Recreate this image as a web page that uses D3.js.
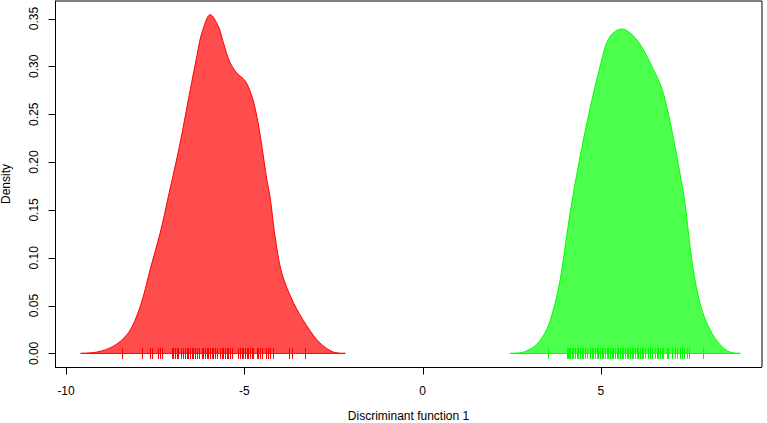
<!DOCTYPE html>
<head>
  <meta charset="utf-8">
  <title>Discriminant function density</title>
</head>
<style>
  body {
    margin: 0;
    background: #fff;
  }
  svg text {
    font-family: "Liberation Sans", Arial, Helvetica, sans-serif;
    font-size: 12px;
    fill: #000;
  }
</style>
<body>
  <svg id="chart" width="767" height="423"></svg>
<script src="https://cdn.jsdelivr.net/npm/d3@7/dist/d3.min.js"></script>
<script>
  // density outline of group 1
  var redX = [-9.59, -9.14, -8.67, -8.25, -7.92, -7.64, -7.36, -7.13, -6.80, -6.57, -6.33, -6.19, -5.96,
              -5.73, -5.59, -5.40, -5.21, -4.98, -4.79, -4.65, -4.51, -4.37, -4.28, -4.14, -3.95, -3.62,
              -3.25, -2.88, -2.50, -2.17];
  var redY = [0.0002, 0.0014, 0.0076, 0.0216, 0.049, 0.088, 0.126, 0.164, 0.220, 0.265, 0.311, 0.335, 0.354,
              0.342, 0.325, 0.304, 0.293, 0.285, 0.269, 0.248, 0.217, 0.182, 0.164, 0.123, 0.084, 0.053,
              0.029, 0.011, 0.0014, 0.0002];

  // density outline of group 2
  var greenX = [2.45, 2.83, 3.20, 3.48, 3.67, 3.86, 4.00, 4.14, 4.28, 4.51, 4.75, 4.98, 5.17, 5.35, 5.59,
                5.82, 6.10, 6.47, 6.71, 6.89, 7.08, 7.22, 7.36, 7.50, 7.64, 7.83, 8.06, 8.34, 8.62, 8.91];
  var greenY = [0.0002, 0.0014, 0.0094, 0.025, 0.046, 0.077, 0.112, 0.147, 0.178, 0.223, 0.265, 0.300, 0.325,
                0.335, 0.339, 0.335, 0.323, 0.297, 0.277, 0.251, 0.216, 0.188, 0.157, 0.112, 0.077, 0.046,
                0.025, 0.0094, 0.0014, 0.0002];

  // rug values (individual scores)
  var redRug = [-8.44, -7.88, -7.64, -7.58, -7.41, -7.36, -7.32, -7.04, -6.99, -6.94, -6.89, -6.85, -6.78,
                -6.71, -6.66, -6.61, -6.57, -6.52, -6.47, -6.43, -6.38, -6.33, -6.26, -6.19, -6.15, -6.10,
                -6.05, -6.01, -5.96, -5.91, -5.87, -5.82, -5.77, -5.68, -5.63, -5.59, -5.54, -5.49, -5.45,
                -5.40, -5.35, -5.17, -5.12, -5.07, -5.03, -4.98, -4.93, -4.89, -4.84, -4.79, -4.75, -4.65,
                -4.61, -4.56, -4.51, -4.40, -4.34, -4.28, -4.19, -3.76, -3.67, -3.30];
  var greenRug = [3.51, 4.04, 4.07, 4.11, 4.14, 4.19, 4.23, 4.28, 4.33, 4.35, 4.42, 4.47, 4.51, 4.56, 4.61,
                  4.70, 4.75, 4.79, 4.84, 4.89, 4.93, 4.98, 5.03, 5.07, 5.12, 5.17, 5.21, 5.26, 5.31, 5.35,
                  5.40, 5.45, 5.49, 5.54, 5.59, 5.63, 5.68, 5.73, 5.77, 5.82, 5.87, 5.91, 5.96, 6.01, 6.05,
                  6.10, 6.15, 6.19, 6.24, 6.33, 6.38, 6.43, 6.52, 6.57, 6.61, 6.66, 6.71, 6.75, 6.85, 6.89,
                  6.99, 7.08, 7.13, 7.22, 7.27, 7.32, 7.41, 7.46, 7.86];

  var xTicks = [-10, -5, 0, 5];
  var yTicks = [0, 0.05, 0.10, 0.15, 0.20, 0.25, 0.30, 0.35];

  var svg = d3.select('#chart');
  var plotL = 55, plotR = 762, plotT = 1, plotB = 367;

  var x = d3.scaleLinear().domain([-10.31, 9.52]).range([plotL, plotR]);
  var y = d3.scaleLinear().domain([-0.01416, 0.3683]).range([plotB, plotT]);

  function translate(a, b) {
    return 'translate(' + a + ', ' + b + ')';
  }

  function drawDensity(xs, ys, rug, fill, line) {
    var pts = xs.map(function(v, i) { return [v, ys[i]]; });
    var area = d3.area()
      .x(d => x(d[0]))
      .y0(y(0))
      .y1(d => Math.min(y(0), y(d[1])))
      .curve(d3.curveCatmullRom.alpha(0.5));
    svg.append('path')
      .datum(pts)
      .attr('d', area)
      .attr('fill', fill)
      .attr('stroke', line)
      .attr('stroke-width', 1);

    svg.append('g')
      .selectAll('line')
      .data(rug)
      .enter().append('line')
        .attr('x1', d => Math.round(x(d)) + 0.5)
        .attr('x2', d => Math.round(x(d)) + 0.5)
        .attr('y1', y(0) - 5.5)
        .attr('y2', y(0) + 5.5)
        .attr('stroke', line)
        .attr('stroke-width', 1);
  }

  drawDensity(redX, redY, redRug, 'rgba(255,0,0,0.7)', '#ff0000');
  drawDensity(greenX, greenY, greenRug, 'rgba(0,255,0,0.7)', '#00ff00');

  // box
  svg.append('line').attr('x1', plotL).attr('x2', plotR).attr('y1', plotT).attr('y2', plotT)
    .attr('stroke', '#000').attr('stroke-width', 1);
  svg.append('line').attr('x1', plotR).attr('x2', plotR).attr('y1', plotT).attr('y2', plotB)
    .attr('stroke', '#000').attr('stroke-width', 1);

  // x axis
  var xAxis = svg.append('g').attr('transform', translate(0, plotB + 0.5));
  xAxis.append('line').attr('x1', plotL).attr('x2', plotR).attr('stroke', '#000');
  xAxis.selectAll('.tick')
    .data(xTicks)
    .enter().append('line')
      .attr('x1', d => Math.round(x(d)) + 0.5)
      .attr('x2', d => Math.round(x(d)) + 0.5)
      .attr('y1', 0)
      .attr('y2', 7)
      .attr('stroke', '#000');
  xAxis.selectAll('.lab')
    .data(xTicks)
    .enter().append('text')
      .attr('x', d => x(d))
      .attr('y', 27.5)
      .attr('text-anchor', 'middle')
      .text(d => d);

  // y axis
  var yAxis = svg.append('g').attr('transform', translate(plotL + 0.5, 0));
  yAxis.append('line').attr('y1', plotT).attr('y2', plotB + 0.5).attr('stroke', '#000');
  yAxis.selectAll('.tick')
    .data(yTicks)
    .enter().append('line')
      .attr('y1', d => Math.round(y(d)) + 0.5)
      .attr('y2', d => Math.round(y(d)) + 0.5)
      .attr('x1', 0)
      .attr('x2', -7)
      .attr('stroke', '#000');
  svg.selectAll('.ylab')
    .data(yTicks)
    .enter().append('text')
      .attr('transform', d => translate(38, y(d)) + ' rotate(-90)')
      .attr('text-anchor', 'middle')
      .text(d => d.toFixed(2));

  // axis titles
  svg.append('text')
    .attr('x', (plotL + plotR) / 2)
    .attr('y', 420)
    .attr('text-anchor', 'middle')
    .text('Discriminant function 1');
  svg.append('text')
    .attr('transform', translate(10, (plotT + plotB) / 2) + ' rotate(-90)')
    .attr('text-anchor', 'middle')
    .text('Density');
</script>
